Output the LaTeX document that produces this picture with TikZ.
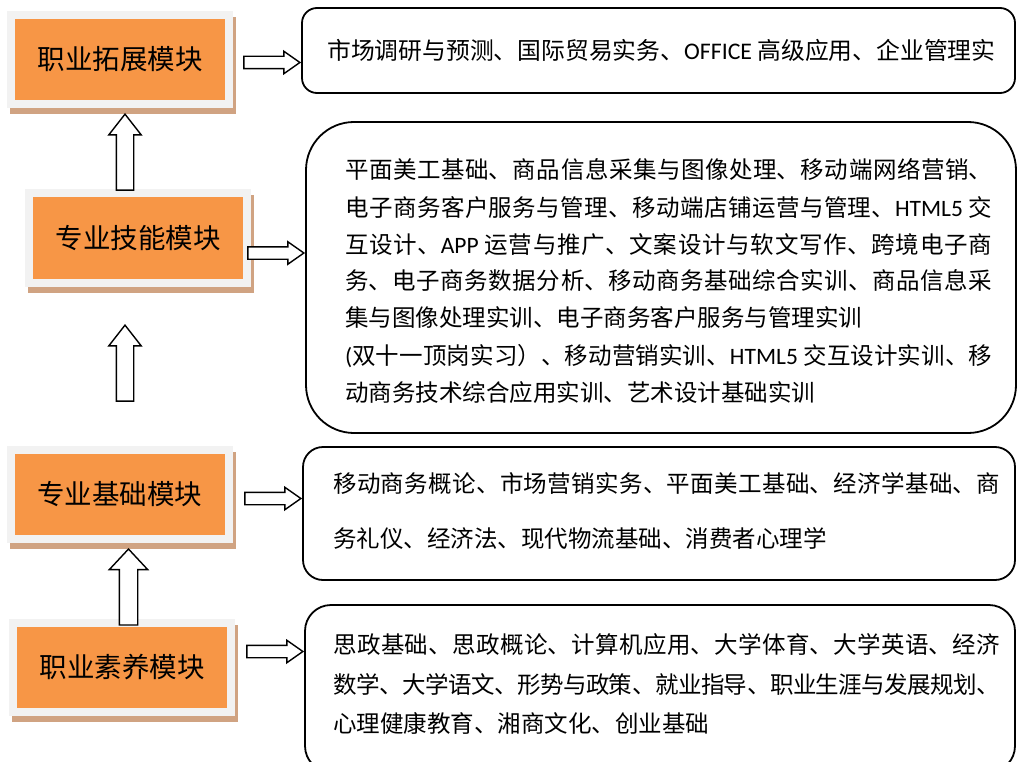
\documentclass[tikz,border=0pt]{standalone}
\usepackage{fontspec}
\setmainfont{Noto Sans CJK SC}
\newfontfamily\latinfont{Carlito}
\usetikzlibrary{shapes.arrows}
\XeTeXlinebreaklocale "zh"
\XeTeXlinebreakskip=0pt plus 3pt minus 1pt
\definecolor{modorange}{HTML}{F79646}
\definecolor{modframe}{HTML}{F2F2F2}
\definecolor{modshadow}{HTML}{D0A382}
\begin{document}
\begin{tikzpicture}[x=1pt, y=-1pt,
	module/.style={draw=modframe, line width=8pt, fill=modorange, inner sep=0pt,
		minimum width=218pt, minimum height=89pt, font=\fontsize{27.5}{33}\selectfont,
		preaction={draw=modshadow, fill=modshadow, line width=8pt, transform canvas={shift={(3,6)}}}},
	course/.style={draw, line width=1.8pt, inner sep=0pt},
	coursetext/.style={anchor=west, align=justify, inner sep=0pt, font=\fontsize{23.5}{37}\selectfont},
	rarrow/.style={single arrow, draw, fill=white, line width=1.4pt, anchor=tip,
		minimum height=56pt, inner xsep=0pt, inner ysep=5.5pt,
		single arrow head extend=5pt, single arrow tip angle=70},
	uarrow/.style={rarrow, rotate=90, minimum height=76pt, inner ysep=8pt,
		single arrow head extend=7.5pt, single arrow tip angle=76}]
	\clip (0,0) rectangle (1017,762);
	\fill[white] (0,0) rectangle (1017,762);

	% left column
	\foreach \n/\x/\y/\t in {m1/120/59.5/职业拓展模块, m2/138/238/专业技能模块, m3/119.5/494.5/专业基础模块, m4/122/667.5/职业素养模块}
	{
		\node[module] (\n) at (\x,\y) {\t};
	}

	% course boxes
	\foreach \n/\x/\y/\w/\h/\r in {c1/658.5/50.5/713/85/15, c2/661/277.5/710/311/48, c3/659/513.5/712/133/20, c4/660/688.5/710/167/26}
	{
		\node[course, minimum width=\w pt, minimum height=\h pt, rounded corners=\r pt] (\n) at (\x,\y) {};
	}

	\node[coursetext, font=\fontsize{23.8}{37}\selectfont] (t1) at (327,50) {市场调研与预测、国际贸易实务、{\latinfont OFFICE }高级应用、企业管理实};
	\node[coursetext, text width=647pt] (t2) at (345,281) {\noindent 平面美工基础、商品信息采集与图像处理、移动端网络营销、\linebreak
		电子商务客户服务与管理、移动端店铺运营与管理、{\latinfont HTML5 }交\linebreak
		互设计、{\latinfont APP }运营与推广、文案设计与软文写作、跨境电子商\linebreak
		务、电子商务数据分析、移动商务基础综合实训、商品信息采\linebreak
		集与图像处理实训、电子商务客户服务与管理实训\\
		{\latinfont (}双十一顶岗实习）、移动营销实训、{\latinfont HTML5 }交互设计实训、移\linebreak
		动商务技术综合应用实训、艺术设计基础实训};
	\node[coursetext, text width=667pt, font=\fontsize{23.5}{55}\selectfont] (t3) at (333,510.5) {\noindent 移动商务概论、市场营销实务、平面美工基础、经济学基础、商\linebreak
		务礼仪、经济法、现代物流基础、消费者心理学};
	\node[coursetext, text width=667pt, font=\fontsize{23.5}{39.5}\selectfont] (t4) at (333,684) {\noindent 思政基础、思政概论、计算机应用、大学体育、大学英语、经济\linebreak
		数学、大学语文、形势与政策、就业指导、职业生涯与发展规划、\linebreak
		心理健康教育、湘商文化、创业基础};

	% block arrows
	\foreach \i/\y in {1/62.5, 2/253, 3/498.5, 4/651.5}
	{
		\path (m\i.east |- 0,\y) -- (c\i.west |- 0,\y) node[rarrow, at end] (r\i) {};
	}
	\node[uarrow] (u1) at (125,113) {};
	\node[uarrow] (u2) at (125,324) {};
	\node[uarrow, inner ysep=8.5pt, single arrow head extend=10pt, single arrow tip angle=86] (u3) at (128.5,548) {};
\end{tikzpicture}
\end{document}
